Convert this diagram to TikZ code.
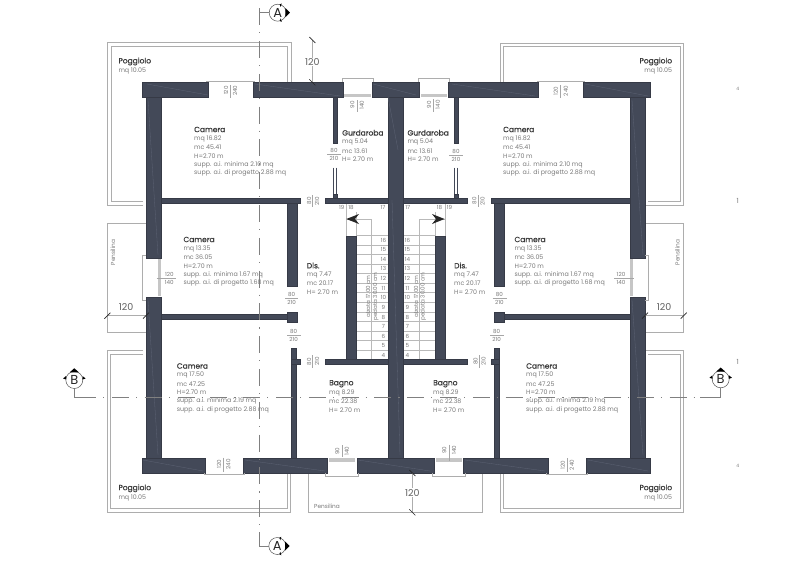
\documentclass[tikz,border=0pt]{standalone}
\usepackage{fontspec}
\setmainfont{Poppins}
\newfontfamily\titlefont[FakeBold=0.6]{Poppins}
\usetikzlibrary{arrows.meta}
\definecolor{wallc}{HTML}{434958}
\definecolor{wallf}{HTML}{5E6575}
\definecolor{txtc}{gray}{0.48}
\definecolor{titlec}{gray}{0.22}
\definecolor{linec}{gray}{0.68}
\definecolor{sectc}{gray}{0.5}
\tikzset{
 wallfill/.style={fill=wallc,draw=wallc!80!black,line width=0.4pt},
 faint/.style={draw=wallf,line width=0.3pt},
 thin line/.style={draw=linec,line width=0.7pt},
 stair/.style={draw=gray!55,line width=0.5pt},
 sect/.style={draw=sectc,line width=1pt,dash pattern=on 17pt off 7pt on 1.2pt off 7.6pt},
 sectsolid/.style={draw=sectc,line width=0.9pt},
 title/.style={anchor=west,inner sep=0,font=\titlefont\fontsize{7.5}{8}\selectfont,text=titlec},
 body/.style={anchor=west,inner sep=0,font=\fontsize{6.3}{7}\selectfont,text=txtc},
 dim/.style={inner sep=0,font=\fontsize{5.6}{6}\selectfont,text=txtc},
 smallrot/.style={dim,rotate=90},
 bigdim/.style={inner sep=1pt,font=\fontsize{9.5}{10}\selectfont,text=gray!75!black},
 circ/.style={circle,draw=gray!65!black,line width=0.5pt,fill=white,minimum size=17pt,inner sep=0,font=\fontsize{13}{13}\selectfont,text=gray!30!black},
 tick/.style={draw=gray!30!black,line width=0.7pt},
 divider/.style={draw=gray!70,line width=0.5pt},
}
\newcommand{\wl}[4]{\path[wallfill] (#1,#2) rectangle (#3,#4);}
\newcommand{\roomlab}[8]{%
 \node[title] at (#1,#2) {#3};
 \node[body] at (#1,#2+9.3) {#4};
 \node[body] at (#1,#2+18) {#5};
 \node[body] at (#1,#2+26.6) {#6};
 \node[body] at (#1,#2+35.1) {#7};
 \node[body] at (#1,#2+43.8) {#8};}
\newcommand{\smalllab}[6]{%
 \node[title] at (#1,#2) {#3};
 \node[body] at (#1,#2+9.3) {#4};
 \node[body] at (#1,#2+18) {#5};
 \node[body] at (#1,#2+26.4) {#6};}
\newcommand{\rotfrac}[8]{%
 \node[smallrot] at (#1,#3) {#7};
 \node[smallrot] at (#2,#3) {#8};
 \draw[divider] (#4,#5) -- (#4,#6);}
\newcommand{\horfrac}[4]{%
 \node[dim] at (#1,#2-3.7) {80};
 \node[dim] at (#1,#2+4.4) {210};
 \draw[divider] (#3,#2) -- (#4,#2);}
\begin{document}
\begin{tikzpicture}[x=1pt,y=-1pt]
\useasboundingbox (0,0) rectangle (800,565);
\fill[white] (0,0) rectangle (800,565);
% balconies
\draw[thin line] (143,205.7) -- (107.3,205.7) -- (107.3,42.7) -- (291,42.7) -- (291,81.5);
\draw[thin line] (143,201.7) -- (111,201.7) -- (111,46.7) -- (287.3,46.7) -- (287.3,81.5);
\draw[thin line] (645,205.5) -- (683.7,205.5) -- (683.7,43.3) -- (500.3,43.3) -- (500.3,81.5);
\draw[thin line] (648,201.7) -- (680,201.7) -- (680,46.7) -- (503.7,46.7) -- (503.7,81.5);
\draw[thin line] (143,350.7) -- (107.3,350.7) -- (107.3,512.3) -- (290.7,512.3) -- (290.7,474);
\draw[thin line] (143,354.3) -- (110.7,354.3) -- (110.7,508.3) -- (287.3,508.3) -- (287.3,474);
\draw[thin line] (645,350.3) -- (683.7,350.3) -- (683.7,512.3) -- (500.3,512.3) -- (500.3,474);
\draw[thin line] (648,354) -- (680,354) -- (680,508.3) -- (503.7,508.3) -- (503.7,474);
% pensiline
\draw[thin line] (146,223.3) -- (107.3,223.3) -- (107.3,332.3) -- (146,332.3);
\draw[thin line] (645,223.3) -- (683.7,223.3) -- (683.7,332.3) -- (645,332.3);
\draw[thin line] (308.7,473) -- (308.7,512.3) -- (482,512.3) -- (482,473);
\node[inner sep=0,font=\fontsize{5.8}{6}\selectfont,text=txtc,rotate=90] at (113,252.5) {Pensilina};
\node[inner sep=0,font=\fontsize{5.8}{6}\selectfont,text=txtc,rotate=90] at (677.5,252.5) {Pensilina};
\node[anchor=west,inner sep=0,font=\fontsize{5.8}{6}\selectfont,text=txtc] at (314,506) {Pensilina};
% stairs
\foreach \xa/\xb in {356/388,402.7/435}{
  \foreach \k in {0,...,13}{ \draw[stair] (\xa,{359.5-\k*9.55}) -- (\xb,{359.5-\k*9.55}); }
}
\draw[stair] (346,203) -- (346,236) (356,212) -- (356,236) (371.7,219) -- (371.7,359) (346,219) -- (371.7,219);
\draw[stair] (445,203) -- (445,236) (435,212) -- (435,236) (419,219) -- (419,359) (419,219) -- (445,219);
\fill[black!85] (346.3,219) -- (359,214) -- (355,219) -- (359,224) -- cycle;
\fill[black!85] (444.6,219) -- (432,214) -- (436,219) -- (432,224) -- cycle;
\foreach \n in {4,...,16}{
 \node[dim] at (383.5,{355.5-(\n-4)*9.62}) {\n};
 \node[dim] at (407.5,{355.5-(\n-4)*9.62}) {\n};
}
\node[dim] at (341.7,207.5) {19};\node[dim] at (351,207.5) {18};\node[dim] at (383,207.5) {17};
\node[dim] at (407.7,207.5) {17};\node[dim] at (439.5,207.5) {18};\node[dim] at (449.5,207.5) {19};
\node[smallrot] at (368,296.5) {alzata 17.00 cm};
\node[smallrot] at (375.7,296.5) {pedata 30.00 cm};
\node[smallrot] at (416,296.5) {alzata 17.00 cm};
\node[smallrot] at (423.3,296.5) {pedata 30.00 cm};
% walls: top
\wl{141.7}{82.3}{208}{97.3}\wl{253.3}{82.3}{342.7}{97.3}\wl{372.3}{82.3}{419}{97.3}\wl{448.3}{82.3}{538}{97.3}\wl{583}{82.3}{649.7}{97.3}
% walls: bottom
\wl{141.7}{458}{205}{473}\wl{243.3}{458}{327.3}{473}\wl{356.7}{458}{434.3}{473}\wl{463.3}{458}{547.7}{473}\wl{586}{458}{650}{473}
% outer
\wl{146}{97}{161}{258}\wl{146}{297}{161}{458}\wl{630}{97}{645}{258}\wl{630}{297}{645}{458}
% centre
\wl{388}{97}{402.7}{458}
% partitions
\wl{161}{198.3}{300}{203.3}\wl{325.3}{198.3}{388}{203.3}\wl{402.7}{198.3}{466.7}{203.3}\wl{491}{198.3}{630}{203.3}
\wl{286.7}{203}{296.7}{285.7}\wl{494.3}{203}{504.3}{285.7}
\wl{161}{314}{296.7}{319.3}\wl{286.7}{311.7}{296.7}{322.3}\wl{494.3}{314}{630}{319.3}\wl{494.3}{311.7}{504.3}{322.3}
\wl{291.5}{348.3}{296.5}{458}\wl{494.3}{348.3}{499.3}{458}
\wl{291.5}{359.3}{300}{364.3}\wl{491}{359.3}{499.3}{364.3}
\wl{325.3}{359.3}{388}{364.3}\wl{402.7}{359.3}{466.7}{364.3}
\wl{346}{236}{356}{359.5}\wl{435}{236}{445}{359.5}
\wl{333}{97}{336.7}{143.3}\wl{454.3}{97}{458}{142.7}
% door leaves
\draw[draw=wallc,line width=0.9pt] (333.5,167.7) -- (333.5,194) (336.2,167.7) -- (336.2,194);
\draw[draw=wallc,line width=0.9pt] (454.8,167.7) -- (454.8,194) (457.5,167.7) -- (457.5,194);
\wl{333}{194}{336.7}{198.3}\wl{454.3}{194}{458}{198.3}
% faint lines in walls
\draw[faint] (147,84) -- (208,95) (255,84) -- (340,96) (373,84) -- (416,95) (388,97) -- (398,150) (452,84) -- (535,96) (585,84) -- (648,96)
 (148,100) -- (158,255) (148,300) -- (158,455) (632,100) -- (643,255) (632,300) -- (643,455) (392,200) -- (400,455)
 (245,460) -- (325,471) (358,460) -- (430,471) (465,460) -- (545,471) (588,460) -- (648,471) (143,460) -- (203,471);
% window details
\draw[thin line] (206.7,82) -- (206.7,81.2) -- (254.5,81.2) -- (254.5,82);
\draw[thin line] (537,82) -- (537,81) -- (584.5,81) -- (584.5,82);
\draw[thin line] (204,473) -- (204,474.8) -- (244.5,474.8) -- (244.5,473);
\draw[thin line] (546.5,473) -- (546.5,474.8) -- (587,474.8) -- (587,473);
\foreach \xa/\xb in {340/375.5,415.5/451.5}{
 \draw[thin line,line width=0.6pt] (\xa+2.3,82) -- (\xa+2.3,78.5) -- (\xb-2.7,78.5) -- (\xb-2.7,82);
}
\foreach \xa/\xb in {342.7/372.3,419/448.3}{ \fill[gray!45] (\xa+1.5,93.5) rectangle (\xb-1.5,97); }
\foreach \xa/\xb in {327.3/356.7,434.3/463.3}{
 \fill[gray!45] (\xa+1.5,458) rectangle (\xb-1.5,461.5);
 \draw[thin line,line width=0.6pt] (\xa-2,473) -- (\xa-2,476.5) -- (\xb+2,476.5) -- (\xb+2,473);
}
\draw[thin line,line width=0.6pt] (146,255) -- (142.7,255) -- (142.7,300) -- (146,300);
\draw[thin line,line width=0.6pt] (645,255) -- (648.3,255) -- (648.3,300) -- (645,300);
\fill[gray!45] (158.3,259) rectangle (161,296);
\fill[gray!45] (630,259) rectangle (632.8,296);
% section lines
\node[circ] (At) at (277.7,12.7) {A};
\node[circ] (Ab) at (277.3,546) {A};
\node[circ] (Bl) at (74.3,380) {B};
\node[circ] (Br) at (720.7,379.3) {B};
\coordinate (Atc) at (259,12.7);
\coordinate (Abc) at (259,546);
\coordinate (Blc) at (74.3,397.7);
\coordinate (Brc) at (720.7,397.7);
\draw[sectsolid] (At.west) -- (Atc) -- (259,25);
\draw[sectsolid] (Ab.west) -- (Abc) -- (259,532);
\draw[sectsolid] (Bl.south) -- (Blc) -- (95,397.7);
\draw[sectsolid] (Br.south) -- (Brc) -- (700,397.7);
\draw[sect] (259,8.2) -- (259,532);
\draw[sect] (79.2,397.7) -- (700,397.7);
% section arrows
\foreach \n in {At,Ab}{
 \fill[black] (\n.east) ++(-1,-4.5) -- ++(4.5,4.5) -- ++(-4.5,4.5) -- cycle;
 \fill[black] (\n.north) ++(2,0.5) -- ++(2,-1) -- ++(-1,3.5) -- cycle;
 \fill[black] (\n.south) ++(2,-0.5) -- ++(2,1) -- ++(-1,-3.5) -- cycle;
}
\foreach \n in {Bl,Br}{
 \fill[black] (\n.north) ++(-4.5,1) -- ++(4.5,-4) -- ++(4.5,4) -- cycle;
 \fill[black] (\n.west) ++(0.5,-4) -- ++(-3,2.5) -- ++(3,1) -- cycle;
 \fill[black] (\n.east) ++(-0.5,-4) -- ++(3,2.5) -- ++(-3,1) -- cycle;
}
% big dimensions
\coordinate (d1a) at (312.3,40);\coordinate (d1b) at (312.3,82.3);
\coordinate (d2a) at (107.3,315.7);\coordinate (d2b) at (146,315.7);
\coordinate (d3a) at (645,315.7);\coordinate (d3b) at (683.7,315.7);
\coordinate (d4a) at (412.3,473);\coordinate (d4b) at (412.3,512.3);
\draw[thin line] (d1a) -- (d1b) (d2a) -- (d2b) (d3a) -- (d3b) (d4a) -- (d4b);
\node[bigdim,fill=white] at (312.3,62) {120};
\node[bigdim] at (126,306.7) {120};
\node[bigdim] at (664,306.7) {120};
\node[bigdim,fill=white] at (412.3,492.7) {120};
\foreach \p in {d1a,d1b,d4a,d4b}{ \draw[tick] (\p) ++(-3,-3) -- ++(6,6); }
\foreach \p in {d2a,d2b,d3a,d3b}{ \draw[tick] (\p) ++(-3,3) -- ++(6,-6); }
% room labels
\roomlab{194}{129.5}{Camera}{mq 16.82}{mc 45.41}{H=2.70 m}{supp. a.i. minima 2.10 mq}{supp. a.i. di progetto 2.88 mq}
\roomlab{503}{129.5}{Camera}{mq 16.82}{mc 45.41}{H=2.70 m}{supp. a.i. minima 2.10 mq}{supp. a.i. di progetto 2.88 mq}
\roomlab{183.3}{239.5}{Camera}{mq 13.35}{mc 36.05}{H=2.70 m}{supp. a.i. minima 1.67 mq}{supp. a.i. di progetto 1.68 mq}
\roomlab{514.3}{239.5}{Camera}{mq 13.35}{mc 36.05}{H=2.70 m}{supp. a.i. minima 1.67 mq}{supp. a.i. di progetto 1.68 mq}
\roomlab{176.7}{366}{Camera}{mq 17.50}{mc 47.25}{H=2.70 m}{supp. a.i. minima 2.19 mq}{supp. a.i. di progetto 2.88 mq}
\roomlab{526}{366}{Camera}{mq 17.50}{mc 47.25}{H=2.70 m}{supp. a.i. minima 2.19 mq}{supp. a.i. di progetto 2.88 mq}
\smalllab{342}{132.8}{Gurdaroba}{mq 5.04}{mc 13.61}{H= 2.70 m}
\smalllab{407.3}{132.8}{Gurdaroba}{mq 5.04}{mc 13.61}{H= 2.70 m}
\smalllab{306.7}{265.5}{Dis.}{mq 7.47}{mc 20.17}{H= 2.70 m}
\smalllab{454}{265.5}{Dis.}{mq 7.47}{mc 20.17}{H= 2.70 m}
\smalllab{329}{383.7}{Bagno}{mq 8.29}{mc 22.38}{H= 2.70 m}
\smalllab{433}{383.7}{Bagno}{mq 8.29}{mc 22.38}{H= 2.70 m}
\node[title] at (118.3,61.5) {Poggiolo};\node[body] at (118.3,70.7) {mq 10.05};
\node[title,anchor=east] at (672.3,61.5) {Poggiolo};\node[body,anchor=east] at (672.3,70.7) {mq 10.05};
\node[title] at (118.3,488.3) {Poggiolo};\node[body] at (118.3,497.7) {mq 10.05};
\node[title,anchor=east] at (672.3,488.3) {Poggiolo};\node[body,anchor=east] at (672.3,497.7) {mq 10.05};
% door fractions
\horfrac{334}{154}{327}{340.7}
\horfrac{456}{155}{449}{463.3}
\horfrac{291.7}{298.3}{285}{298}
\horfrac{293.7}{335.3}{287}{301}
\horfrac{499.3}{298.3}{492.5}{506.5}
\horfrac{496.7}{335.3}{490}{504}
\rotfrac{309}{317}{201}{312.7}{195}{207}{80}{210}
\rotfrac{309}{317}{361.7}{312.7}{355}{368}{80}{210}
\rotfrac{474.3}{482.5}{201}{478.3}{195}{207}{80}{210}
\rotfrac{475.5}{483.5}{361.2}{479.5}{355}{368}{80}{210}
\rotfrac{226}{235}{90.7}{230}{85}{98.3}{120}{240}
\rotfrac{555.7}{565.7}{91}{560.3}{85}{98.3}{120}{240}
\rotfrac{219}{228.3}{464.3}{223.7}{457.7}{471.7}{120}{240}
\rotfrac{562.7}{571.7}{465}{567}{458}{472}{120}{240}
\rotfrac{352.3}{361.7}{105}{357.3}{100}{111.7}{90}{140}
\rotfrac{429}{437.7}{104.7}{433.3}{99}{111.7}{90}{140}
\rotfrac{337.3}{346.7}{451}{342}{445}{456.7}{90}{140}
\rotfrac{444.3}{454}{450}{449}{444.5}{461}{90}{140}
\node[dim] at (169.3,274) {120};\node[dim] at (169.3,282.3) {140};\draw[divider] (156.7,277.8) -- (176,277.8);
\node[dim] at (621,274) {120};\node[dim] at (621,282.3) {140};\draw[divider] (614.3,277.8) -- (634,277.8);
% margin fragments
\node[dim,font=\fontsize{7}{7}\selectfont] at (737.7,200.5) {1};
\node[dim,font=\fontsize{7}{7}\selectfont] at (737.7,361.5) {1};
\node[dim,font=\fontsize{4.5}{5}\selectfont] at (737.7,89) {4};
\node[dim,font=\fontsize{4.5}{5}\selectfont] at (737.7,465.5) {4};
\end{tikzpicture}
\end{document}
